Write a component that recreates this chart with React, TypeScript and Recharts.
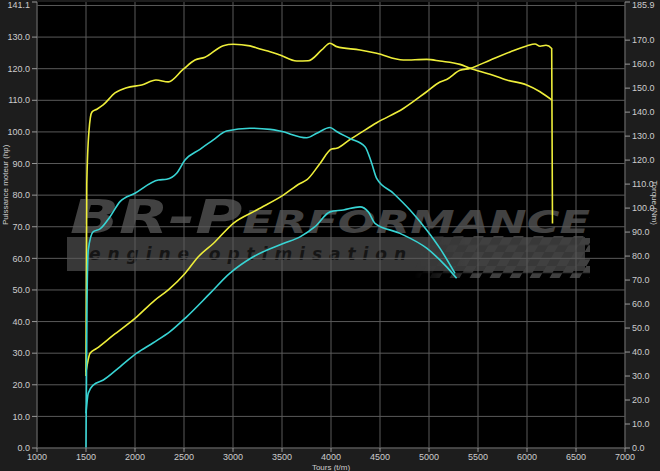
import React from 'react';
import { LineChart, Line, XAxis, YAxis, CartesianGrid } from 'recharts';

// x axis (Tours t/m)
const rpmTicks = [1000, 1500, 2000, 2500, 3000, 3500, 4000, 4500, 5000, 5500, 6000, 6500, 7000];
// left axis (hp) and right axis (Nm)
const hpTicks = [0, 10, 20, 30, 40, 50, 60, 70, 80, 90, 100, 110, 120, 130, 141.1];
const hpGrid = [0, 10, 20, 30, 40, 50, 60, 70, 80, 90, 100, 110, 120, 130, 140];
const nmTicks = [0, 10, 20, 30, 40, 50, 60, 70, 80, 90, 100, 110, 120, 130, 140, 150, 160, 170, 180, 185.9];

// tuned power (yellow, hp)
const tunedHpRpm = [1500, 1541, 1609, 1779, 2000, 2204, 2340, 2510, 2646, 2799, 3003, 3242, 3513, 3684, 3752, 3888, 4007, 4058, 4194, 4296, 4466, 4738, 4976, 5112, 5180, 5316, 5418, 5622, 5827, 5997, 6082, 6133, 6194, 6252, 6260];
const tunedHp = [24.1, 30.0, 31.5, 35.7, 41.0, 46.8, 50.0, 55.2, 60.5, 64.7, 71.1, 75.3, 80.0, 83.7, 84.8, 90.0, 94.6, 94.8, 97.6, 99.6, 102.9, 107.4, 112.7, 115.8, 116.6, 119.5, 120.1, 122.7, 125.3, 127.2, 127.8, 127.1, 127.4, 126.4, 71.0];

// tuned torque (yellow, Nm)
const tunedNmRpm = [1500, 1508, 1530, 1560, 1610, 1675, 1796, 1915, 2068, 2214, 2340, 2493, 2612, 2714, 2901, 3003, 3173, 3276, 3378, 3480, 3650, 3768, 3905, 3990, 4058, 4296, 4466, 4738, 4976, 5112, 5316, 5418, 5622, 5793, 5997, 6133, 6252];
const tunedNm = [30, 110, 132, 140, 141.2, 143, 148, 150.2, 151.3, 153.4, 152.6, 157.9, 161.7, 162.9, 167.7, 168.3, 167.6, 166.3, 165.2, 163.8, 161.3, 161.4, 165.9, 168.7, 167.3, 165.9, 164.5, 161.7, 162, 161.3, 159.9, 158.3, 155.8, 153.4, 151.3, 148.5, 145.1];

// stock torque (cyan, Nm)
const stockNmRpm = [1500, 1510, 1523, 1574, 1643, 1745, 1847, 2000, 2238, 2323, 2425, 2510, 2663, 2799, 2935, 3173, 3378, 3480, 3752, 3854, 3990, 4058, 4194, 4347, 4415, 4466, 4636, 4806, 4976, 5112, 5265];
const stockNm = [0, 60, 82.5, 90.2, 91.3, 96.4, 102.7, 106.2, 111.7, 112.0, 114.5, 120, 124.5, 128.4, 132.1, 133.3, 132.8, 132.1, 129.3, 131.2, 133.6, 131.9, 129.0, 125.6, 118.7, 112.4, 106.2, 99.2, 90.9, 83.2, 72.8];

// stock power (cyan, hp)
const stockHpRpm = [1500, 1523, 1574, 1677, 1847, 2017, 2187, 2357, 2527, 2765, 2969, 3207, 3513, 3684, 3837, 3990, 4126, 4296, 4381, 4449, 4704, 4976, 5180, 5282];
const stockHp = [11, 17.3, 19.9, 21.5, 25.7, 30.0, 33.3, 36.8, 41.5, 48.9, 55.3, 60.5, 64.7, 66.8, 70.0, 74.7, 75.3, 76.3, 74.7, 71.1, 67.9, 63.2, 57.3, 53.7];

const zip = (xs: number[], ys: number[]) => xs.map((rpm, i) => ({ rpm, v: ys[i] }));

const W = 660;
const H = 471;
const LEFT = 37;
const RIGHT = 35;
const TOP = 2;
const BOTTOM = 23;

const YELLOW = '#eeee3a';
const CYAN = '#38d4d4';
const TXT = '#cccccc';
const FONT = 'Liberation Sans, Arial, sans-serif';
const tickStyle = { fill: TXT, fontSize: 9, fontFamily: FONT };

const Watermark = () => (
  <svg width={W} height={H} style={{ position: 'absolute', left: 0, top: 0 }}>
    <defs>
      <pattern id="chk" width="20" height="14" patternUnits="userSpaceOnUse" patternTransform="skewX(-30)">
        <rect width="10" height="7" fill="#404040" />
        <rect x="10" y="7" width="10" height="7" fill="#404040" />
      </pattern>
      <linearGradient id="fade" x1="0" x2="1" y1="0" y2="0">
        <stop offset="0" stopColor="#fff" stopOpacity="0" />
        <stop offset="0.35" stopColor="#fff" stopOpacity="1" />
      </linearGradient>
      <mask id="chkMask">
        <rect x={415} y={236} width={175} height={42} fill="url(#fade)" />
      </mask>
    </defs>
    <rect x={LEFT} y={TOP} width={W - LEFT - RIGHT} height={H - TOP - BOTTOM} fill="#000" />
    <text x={70} y={233} fontSize={46} fontStyle="italic" fontWeight="bold" fill="#424242"
      fontFamily="DejaVu Sans, sans-serif" style={{ fontVariant: 'small-caps' }}
      textLength={520} lengthAdjust="spacingAndGlyphs">BR-Performance</text>
    <rect x={67} y={237} width={518} height={34} fill="#383838" />
    <text x={89} y={260} fontSize={17} fontStyle="italic" fontWeight="bold" fill="#151515"
      fontFamily="DejaVu Sans, sans-serif" textLength={317} lengthAdjust="spacing">engine optimisation</text>
    <rect x={415} y={236} width={175} height={42} fill="url(#chk)" mask="url(#chkMask)" />
  </svg>
);

export default function App() {
  return (
    <div style={{ position: 'relative', width: W, height: H, background: '#1d1d1d', overflow: 'hidden' }}>
      <style>{'body{margin:0;background:#1d1d1d}'}</style>
      <Watermark />
      <div style={{ position: 'absolute', left: 0, top: 0 }}>
        <LineChart width={W} height={H} margin={{ top: TOP, right: 0, left: 0, bottom: 0 }}>
          <CartesianGrid yAxisId="left" horizontalValues={hpGrid} verticalValues={rpmTicks} stroke="#5a5a5a" strokeWidth={1} />
          <XAxis type="number" dataKey="rpm" domain={[1000, 7000]} ticks={rpmTicks} height={BOTTOM}
            tick={tickStyle} tickSize={4} tickLine={{ stroke: '#999' }} axisLine={{ stroke: '#555' }}
            allowDataOverflow
            label={{ value: 'Tours (t/m)', position: 'insideBottom', offset: 1, fill: TXT, fontSize: 8, fontFamily: FONT }} />
          <YAxis yAxisId="left" type="number" domain={[0, 141.1]} ticks={hpTicks} width={LEFT}
            tick={tickStyle} tickSize={5} tickLine={{ stroke: '#999' }} axisLine={{ stroke: '#555' }}
            tickFormatter={(v: number) => v.toFixed(1)} allowDataOverflow
            label={{ value: 'Puissance moteur (hp)', angle: -90, position: 'insideLeft', offset: 5, fill: TXT, fontSize: 8, fontFamily: FONT }} />
          <YAxis yAxisId="right" orientation="right" type="number" domain={[0, 185.9]} ticks={nmTicks} width={RIGHT}
            tick={tickStyle} tickSize={5} tickLine={{ stroke: '#999' }} axisLine={{ stroke: '#555' }}
            tickFormatter={(v: number) => v.toFixed(1)} allowDataOverflow
            label={{ value: 'Torque (Nm)', angle: 90, position: 'insideRight', offset: 5, fill: TXT, fontSize: 8, fontFamily: FONT }} />
          <Line data={zip(tunedNmRpm, tunedNm)} dataKey="v" yAxisId="right" type="monotone" stroke={YELLOW} strokeWidth={1.6} dot={false} isAnimationActive={false} />
          <Line data={zip(tunedHpRpm, tunedHp)} dataKey="v" yAxisId="left" type="monotone" stroke={YELLOW} strokeWidth={1.6} dot={false} isAnimationActive={false} />
          <Line data={zip(stockNmRpm, stockNm)} dataKey="v" yAxisId="right" type="monotone" stroke={CYAN} strokeWidth={1.6} dot={false} isAnimationActive={false} />
          <Line data={zip(stockHpRpm, stockHp)} dataKey="v" yAxisId="left" type="monotone" stroke={CYAN} strokeWidth={1.6} dot={false} isAnimationActive={false} />
        </LineChart>
      </div>
    </div>
  );
}
